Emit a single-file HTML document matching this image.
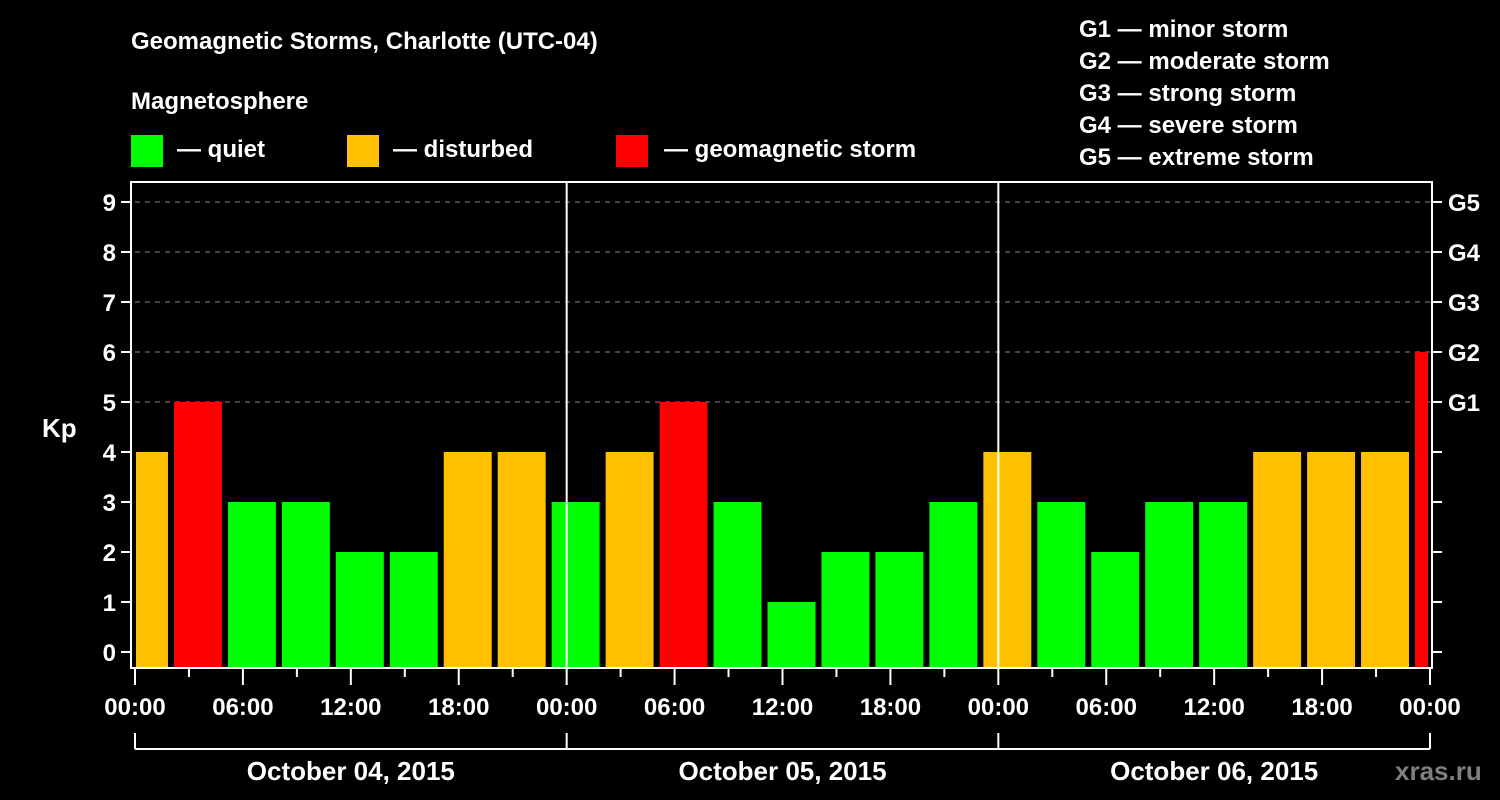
<!DOCTYPE html>
<html><head><meta charset="utf-8"><style>
html,body{margin:0;padding:0;background:#000;}
svg{display:block;font-family:"Liberation Sans",sans-serif;font-weight:bold;}
</style></head><body>
<svg id="chart" width="1500" height="800" viewBox="0 0 1500 800">
<rect width="1500" height="800" fill="#000"/>
<text x="131" y="49" fill="#fff" font-size="24">Geomagnetic Storms, Charlotte (UTC-04)</text>
<text x="131" y="109" fill="#fff" font-size="24">Magnetosphere</text>
<g><rect x="131" y="135" width="32" height="32" fill="#00ff00"/><text x="177" y="157" fill="#fff" font-size="24">— quiet</text></g>
<g><rect x="347" y="135" width="32" height="32" fill="#ffc000"/><text x="393" y="157" fill="#fff" font-size="24">— disturbed</text></g>
<g><rect x="616" y="135" width="32" height="32" fill="#ff0000"/><text x="664" y="157" fill="#fff" font-size="24">— geomagnetic storm</text></g>
<g font-size="24" fill="#fff">
<text x="1079" y="37">G1 — minor storm</text>
<text x="1079" y="69">G2 — moderate storm</text>
<text x="1079" y="101">G3 — strong storm</text>
<text x="1079" y="133">G4 — severe storm</text>
<text x="1079" y="165">G5 — extreme storm</text>
</g>
<text x="42" y="437" fill="#fff" font-size="26">Kp</text>
<text x="1395" y="780" fill="#7f7f7f" font-size="26">xras.ru</text>
<g id="plot"></g>
</svg>
<script>
const kpValues=[4,5,3,3,2,2,4,4,3,4,5,3,1,2,2,3,4,3,2,3,3,4,4,4,6];
const binStartHours=[-1,2,5,8,11,14,17,20,23,26,29,32,35,38,41,44,47,50,53,56,59,62,65,68,71];
const yTicks=[0,1,2,3,4,5,6,7,8,9];
const gLabels=["G1","G2","G3","G4","G5"];
const gLevels=[5,6,7,8,9];
const xTickLabels=["00:00","06:00","12:00","18:00","00:00","06:00","12:00","18:00","00:00","06:00","12:00","18:00","00:00"];
const dateLabels=["October 04, 2015","October 05, 2015","October 06, 2015"];
const NS="http://www.w3.org/2000/svg";
const L=135,R=1430,T=182,B=667;
const x=h=>L+(h/72)*(R-L);
const y=v=>652-v*50;
const g=document.getElementById('plot');
function mk(tag,a){const e=document.createElementNS(NS,tag);for(const k in a)e.setAttribute(k,a[k]);g.appendChild(e);return e;}
gLevels.forEach(v=>{
 const e=mk('line',{x1:L,x2:R,y1:y(v),y2:y(v),stroke:'#888','stroke-dasharray':'5,5','stroke-width':1});
 
 
});
kpValues.forEach((v,i)=>{
 const s=Math.max(x(binStartHours[i])+3,L+1),e2=Math.min(x(binStartHours[i]+3)-3,R-2);
 const c=v>=5?'#ff0000':(v>=4?'#ffc000':'#00ff00');
 const r=mk('rect',{x:s,y:y(v),width:e2-s,height:B-y(v),fill:c});
 
 
});
[1,2].forEach(d=>{
 const e=mk('line',{x1:x(d*24),x2:x(d*24),y1:T,y2:B,stroke:'#fff','stroke-width':2});
 
 
});
const fr=mk('rect',{x:L-4,y:T,width:R-L+6,height:B-T+1,fill:'none',stroke:'#fff','stroke-width':2});


yTicks.forEach(v=>{
 const t=mk('line',{x1:L-14,x2:L-4,y1:y(v),y2:y(v),stroke:'#fff','stroke-width':2});
 
 
 const tl=mk('text',{x:L-19,y:y(v)+9,fill:'#fff','font-size':24,'text-anchor':'end'});
 tl.textContent=v;
 
 
 const rt=mk('line',{x1:R+2,x2:R+12,y1:y(v),y2:y(v),stroke:'#fff','stroke-width':2});
 
 
});
gLevels.forEach((v,i)=>{
 const tl=mk('text',{x:R+18,y:y(v)+9,fill:'#fff','font-size':24});
 tl.textContent=gLabels[i];
 
 
});
for(let h=0;h<=72;h+=3){
 const major=h%6===0;
 const t=mk('line',{x1:x(h),x2:x(h),y1:B,y2:B+(major?18:10),stroke:'#fff','stroke-width':2});
 
 
}
xTickLabels.forEach((lab,i)=>{
 const tl=mk('text',{x:x(i*6),y:715,fill:'#fff','font-size':24,'text-anchor':'middle'});
 tl.textContent=lab;
 
 
});
const br=mk('line',{x1:L,x2:R,y1:749,y2:749,stroke:'#fff','stroke-width':2});


[0,1,2,3].forEach(d=>{
 const t=mk('line',{x1:x(d*24),x2:x(d*24),y1:733,y2:749,stroke:'#fff','stroke-width':2});
 
 
});
dateLabels.forEach((lab,i)=>{
 const tl=mk('text',{x:x(i*24+12),y:780,fill:'#fff','font-size':26,'text-anchor':'middle'});
 tl.textContent=lab;
 
 
});
</script>
</body></html>
